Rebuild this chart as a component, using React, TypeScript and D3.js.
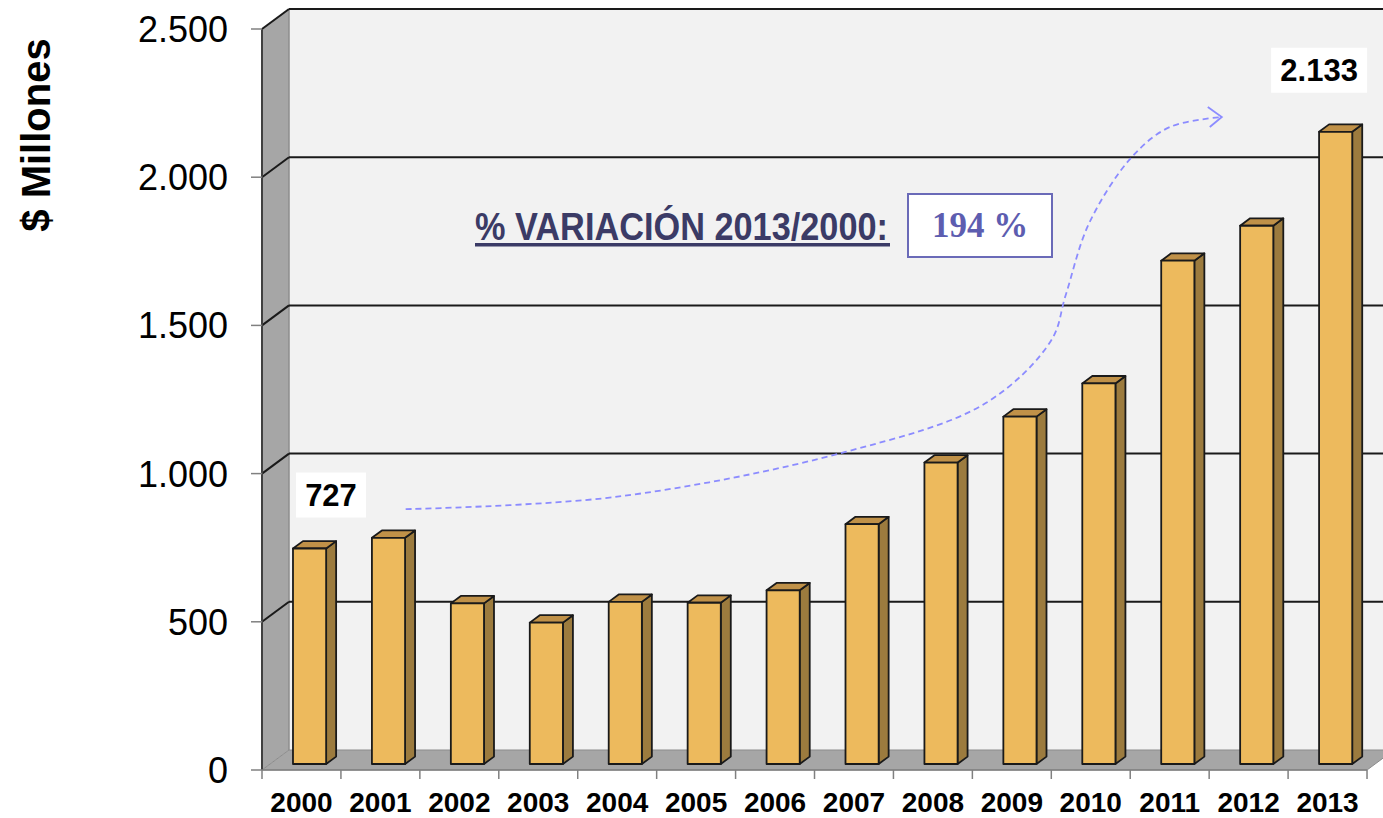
import * as d3 from "d3";

const years = ["2000", "2001", "2002", "2003", "2004", "2005", "2006", "2007", "2008", "2009", "2010", "2011", "2012", "2013"];
const values = [727, 763, 542, 477, 547, 544, 586, 809, 1017, 1172, 1284, 1698, 1816, 2133];
const yTicks = [0, 500, 1000, 1500, 2000, 2500];
const yTickLabels = ["0", "500", "1.000", "1.500", "2.000", "2.500"];
// etiquetas de los extremos: [índice, texto]
const endLabels: [number, string][] = [[0, "727"], [13, "2.133"]];
// flecha de tendencia en espacio de datos: [índice fraccional, valor]
const arrowPts: [number, number][] = [
  [1.82, 880], [4.5, 922], [7.39, 1073], [9.17, 1238], [10.0, 1450],
  [10.18, 1600], [10.48, 1845], [11.02, 2068], [11.5, 2169], [12.16, 2203],
];

const W = 1383;
const H = 818;
const DX = 27; // profundidad del muro
const DY = 20;

const App = () => {
  const y = d3.scaleLinear().domain([0, 2500]).range([770, 29]);
  const x = d3.scaleBand().domain(years).range([262, 262 + 14 * 78.93]);
  const xi = d3.scaleLinear().domain([0, 14]).range([262, 262 + 14 * 78.93]);
  const bw = x.bandwidth();
  const x0 = 262;
  const xEnd = 262 + 14 * 78.93;

  const proj = (px: number, v: number, z: number): [number, number] => [px + z * DX, y(v) - z * DY];
  const poly = (pts: [number, number][]) => pts.map((p) => p.join(",")).join(" ");

  const z0 = 0.3;
  const z1 = 0.67;

  // flecha
  const ap = arrowPts.map(([i, v]) => [xi(i), y(v)] as [number, number]);
  const arrowPath = d3.line().curve(d3.curveCatmullRom.alpha(0.5))(ap) || "";
  const tip = ap[ap.length - 1];

  return (
    <svg width={W} height={H} style={{ position: "absolute", left: 0, top: 0, background: "#fff" }}>
      {/* muro del fondo */}
      <rect x={x0 + DX} y={y(2500) - DY} width={W} height={y(0) - y(2500)} fill="#f2f2f2" />
      {/* muro lateral */}
      <polygon points={poly([proj(x0, 0, 0), proj(x0, 2500, 0), proj(x0, 2500, 1), proj(x0, 0, 1)])} fill="#a6a6a6" />
      <line x1={x0 + DX} x2={x0 + DX} y1={y(2500) - DY} y2={y(0) - DY} stroke="#8c8c8c" strokeWidth={1.5} />
      {/* suelo */}
      <polygon points={poly([proj(x0, 0, 0), proj(xEnd, 0, 0), proj(xEnd, 0, 1), proj(x0, 0, 1)])} fill="#a6a6a6" stroke="#8c8c8c" strokeWidth={1} />
      {/* líneas de división */}
      {yTicks.filter((t) => t > 0).map((t) => {
        const a = proj(x0, t, 0);
        const b = proj(x0, t, 1);
        return (
          <g key={t}>
            <line x1={a[0]} y1={a[1]} x2={b[0]} y2={b[1]} stroke="#1a1a1a" strokeWidth={2} />
            <line x1={b[0]} y1={b[1]} x2={W + 20} y2={b[1]} stroke="#1a1a1a" strokeWidth={2} />
          </g>
        );
      })}
      {/* eje y */}
      <line x1={x0} x2={x0} y1={y(2500)} y2={y(0)} stroke="#404040" strokeWidth={2} />
      <line x1={x0} x2={xEnd} y1={y(0)} y2={y(0)} stroke="#808080" strokeWidth={1.5} />
      {yTicks.map((t, k) => (
        <g key={t}>
          <line x1={251} x2={x0} y1={y(t)} y2={y(t)} stroke="#808080" strokeWidth={1.5} />
          <text x={228} y={y(t)} dy="0.36em" textAnchor="end" fontFamily="Liberation Sans, Arial, sans-serif" fontSize={36} fill="#000">
            {yTickLabels[k]}
          </text>
        </g>
      ))}
      {/* eje x */}
      {d3.range(15).map((i) => (
        <line key={i} x1={xi(i)} x2={xi(i)} y1={y(0)} y2={y(0) + 9} stroke="#808080" strokeWidth={1.5} />
      ))}
      {years.map((yr) => (
        <text key={yr} x={(x(yr) as number) + bw / 2} y={812} textAnchor="middle" fontFamily="Liberation Sans, Arial, sans-serif" fontWeight="bold" fontSize={28} fill="#000">
          {yr}
        </text>
      ))}
      {/* barras */}
      {years.map((yr, i) => {
        const v = values[i];
        const bx0 = (x(yr) as number) + bw * 0.29;
        const bx1 = bx0 + bw * 0.42;
        const f0 = proj(bx0, v, z0);
        const f1 = proj(bx1, 0, z0);
        return (
          <g key={yr} stroke="#1a1a1a" strokeWidth={1.8} strokeLinejoin="round">
            <polygon points={poly([proj(bx1, v, z0), proj(bx1, 0, z0), proj(bx1, 0, z1), proj(bx1, v, z1)])} fill="#9c7b3e" />
            <polygon points={poly([proj(bx0, v, z0), proj(bx1, v, z0), proj(bx1, v, z1), proj(bx0, v, z1)])} fill="#c09148" />
            <rect x={f0[0]} y={f0[1]} width={f1[0] - f0[0]} height={f1[1] - f0[1]} fill="#edba5d" />
          </g>
        );
      })}
      {/* flecha de tendencia */}
      <path d={arrowPath} fill="none" stroke="#8c8cff" strokeWidth={1.8} strokeDasharray="6,4" />
      <path d={`M${tip[0] - 14},${tip[1] - 10} L${tip[0]},${tip[1]} L${tip[0] - 12},${tip[1] + 10}`} fill="none" stroke="#8c8cff" strokeWidth={1.8} />
      {/* etiquetas extremos */}
      {endLabels.map(([i, txt]) => {
        const cx = i === 0 ? xi(i) + 69 : xi(i) + 31;
        const cy = i === 0 ? y(values[i]) - 60 : y(values[i]) - 68;
        const w = i === 0 ? 70 : 96;
        return (
          <g key={i}>
            <rect x={cx - w / 2} y={cy - 22} width={w} height={45} fill="#fff" />
            <text x={cx} y={cy} dy="0.36em" textAnchor="middle" fontFamily="Liberation Sans, Arial, sans-serif" fontWeight="bold" fontSize={31} fill="#000">
              {txt}
            </text>
          </g>
        );
      })}
      {/* variación */}
      <text x={475} y={240} textLength={413} lengthAdjust="spacingAndGlyphs" fontFamily="Liberation Sans, Arial, sans-serif" fontWeight="bold" fontSize={38} fill="#3b3b66">
        % VARIACIÓN 2013/2000:
      </text>
      <rect x={475} y={243} width={415} height={3.5} fill="#3b3b66" />
      <rect x={908} y={194} width={144} height={63} fill="#fff" stroke="#6a6ab8" strokeWidth={2} />
      <text x={980} y={237} textAnchor="middle" fontFamily="Liberation Serif, Times New Roman, serif" fontWeight="bold" fontSize={35} fill="#5d5db0">
        194 %
      </text>
      {/* título eje y */}
      <text transform="translate(36,135) rotate(-90)" dy="0.36em" textAnchor="middle" fontFamily="Liberation Sans, Arial, sans-serif" fontWeight="bold" fontSize={40} fill="#000">
        $ Millones
      </text>
    </svg>
  );
};

export default App;
